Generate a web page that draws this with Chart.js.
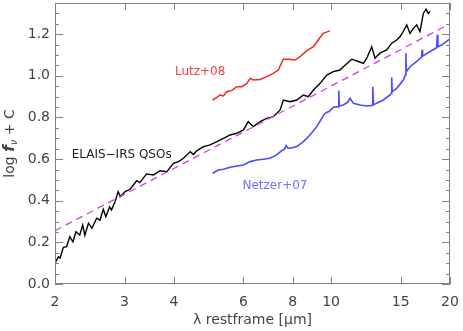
<!DOCTYPE html>
<html>
<head>
<meta charset="utf-8">
<script src="https://cdn.jsdelivr.net/npm/chart.js@4"></script>
<style>
  html, body { margin: 0; padding: 0; background: #fff; }
  #wrap { width: 463px; height: 331px; }
</style>
</head>
<body>
<div id="wrap"><canvas id="sed" width="463" height="331"></canvas></div>
<script>
// tick labels
const xTicks = [2, 3, 4, 6, 8, 10, 15, 20];
const yTicks = [0.0, 0.2, 0.4, 0.6, 0.8, 1.0, 1.2];

// ELAIS-IRS QSOs composite (black)
const elaisLambda = [2.00, 2.04, 2.06, 2.10, 2.14, 2.18, 2.22, 2.26, 2.31, 2.35, 2.38, 2.43, 2.48, 2.55, 2.60, 2.65, 2.69, 2.75, 2.78, 2.84, 2.89, 2.93, 3.01, 3.10, 3.22, 3.28, 3.41, 3.55, 3.69, 3.84, 3.99, 4.11, 4.23, 4.40, 4.48, 4.57, 4.75, 4.94, 5.14, 5.34, 5.55, 5.77, 6.00, 6.17, 6.36, 6.61, 6.87, 7.14, 7.43, 7.57, 7.87, 8.19, 8.51, 8.76, 9.02, 9.38, 9.75, 10.13, 10.53, 10.74, 11.28, 11.72, 12.07, 12.31, 12.67, 12.92, 13.30, 13.83, 14.24, 14.66, 14.94, 15.23, 15.54, 15.84, 16.15, 16.47, 16.79, 17.12, 17.39, 17.62, 17.80];
const elaisFlux = [0.100, 0.131, 0.125, 0.176, 0.179, 0.227, 0.203, 0.251, 0.235, 0.283, 0.235, 0.292, 0.268, 0.316, 0.307, 0.359, 0.323, 0.371, 0.356, 0.396, 0.444, 0.420, 0.444, 0.455, 0.496, 0.487, 0.529, 0.524, 0.544, 0.540, 0.580, 0.588, 0.604, 0.636, 0.622, 0.640, 0.660, 0.668, 0.684, 0.700, 0.716, 0.724, 0.740, 0.780, 0.756, 0.780, 0.796, 0.804, 0.836, 0.884, 0.876, 0.884, 0.908, 0.900, 0.932, 0.964, 1.004, 1.020, 1.028, 1.044, 1.080, 1.069, 1.060, 1.085, 1.140, 1.085, 1.109, 1.125, 1.157, 1.172, 1.188, 1.213, 1.245, 1.204, 1.228, 1.245, 1.213, 1.300, 1.320, 1.300, 1.310];

// Lutz+08 (red)
const lutzLambda = [5.01, 5.14, 5.23, 5.34, 5.44, 5.60, 5.77, 5.94, 6.12, 6.24, 6.36, 6.61, 6.87, 7.14, 7.35, 7.57, 7.80, 8.10, 8.34, 8.68, 9.02, 9.28, 9.55, 9.93];
const lutzFlux = [0.884, 0.897, 0.908, 0.904, 0.924, 0.929, 0.948, 0.948, 0.964, 0.988, 0.980, 0.983, 0.996, 1.012, 1.028, 1.080, 1.080, 1.076, 1.092, 1.121, 1.140, 1.172, 1.204, 1.216];

// Netzer+07 (blue)
const netzerLambda = [5.01, 5.18, 5.34, 5.55, 5.77, 6.00, 6.24, 6.48, 6.73, 7.00, 7.28, 7.50, 7.62, 7.69, 7.78, 7.87, 8.19, 8.51, 8.84, 9.20, 9.47, 9.65, 9.90, 10.13, 10.43, 10.46, 10.49, 10.74, 11.00, 11.17, 11.39, 11.84, 12.31, 12.70, 12.75, 12.80, 12.92, 13.56, 14.10, 14.20, 14.24, 14.28, 14.66, 15.23, 15.43, 15.47, 15.51, 15.84, 16.47, 16.95, 17.00, 17.05, 17.80, 18.50, 18.57, 18.64, 19.05, 19.80, 20.00];
const netzerFlux = [0.532, 0.548, 0.551, 0.561, 0.567, 0.572, 0.588, 0.596, 0.599, 0.604, 0.620, 0.641, 0.648, 0.665, 0.652, 0.652, 0.660, 0.684, 0.716, 0.756, 0.796, 0.820, 0.830, 0.849, 0.852, 0.929, 0.855, 0.860, 0.872, 0.892, 0.868, 0.860, 0.855, 0.858, 0.948, 0.862, 0.865, 0.884, 0.908, 0.915, 0.992, 0.925, 0.940, 0.980, 1.005, 1.109, 1.020, 1.044, 1.069, 1.090, 1.125, 1.095, 1.117, 1.135, 1.197, 1.140, 1.148, 1.172, 1.178];

// power-law reference (magenta dashed)
const fitLambda = [2, 20];
const fitFlux = [0.256, 1.250];

// text annotations (data coordinates)
const labelText = ['Lutz+08', 'ELAIS\u2212IRS QSOs', 'Netzer+07'];
const labelLambda = [4.66, 2.95, 7.21];
const labelFlux = [1.019, 0.620, 0.471];
const labelColor = ['#ff3b3b', '#222222', '#6e6eff'];

const FONT = "'DejaVu Sans', sans-serif";
const AXIS_GRAY = '#808080';
const TEXT_GRAY = '#444444';

const toPoints = (xs, ys) => xs.map((x, i) => ({ x: x, y: ys[i] }));

const noPadding = scale => {
    scale.paddingLeft = 0;
    scale.paddingRight = 0;
    scale.paddingTop = 0;
    scale.paddingBottom = 0;
};

// frame, inward ticks, annotations and axis titles
const decorations = {
    id: 'decorations',
    afterDraw(chart) {
        const ctx = chart.ctx;
        const area = chart.chartArea;
        const xs = chart.scales.x;
        const ys = chart.scales.y;
        ctx.save();

        ctx.strokeStyle = AXIS_GRAY;
        ctx.lineWidth = 1;
        ctx.strokeRect(area.left + 0.5, area.top + 0.5, area.right - area.left - 1, area.bottom - area.top - 1);

        ctx.beginPath();
        xTicks.forEach(v => {
            const px = Math.round(xs.getPixelForValue(v)) + 0.5;
            ctx.moveTo(px, area.bottom);
            ctx.lineTo(px, area.bottom - 7);
            ctx.moveTo(px, area.top);
            ctx.lineTo(px, area.top + 7);
        });
        for (let k = 0; k * 0.05 <= ys.max + 1e-9; k++) {
            const py = Math.round(ys.getPixelForValue(k * 0.05)) + 0.5;
            const len = (k % 4 === 0) ? 8 : 4;
            ctx.moveTo(area.left, py);
            ctx.lineTo(area.left + len, py);
            ctx.moveTo(area.right, py);
            ctx.lineTo(area.right - len, py);
        }
        ctx.stroke();

        // annotations
        ctx.font = '12px ' + FONT;
        ctx.textAlign = 'center';
        ctx.textBaseline = 'middle';
        labelText.forEach((t, i) => {
            ctx.fillStyle = labelColor[i];
            ctx.fillText(t, xs.getPixelForValue(labelLambda[i]), ys.getPixelForValue(labelFlux[i]));
        });

        // x title
        ctx.fillStyle = TEXT_GRAY;
        ctx.font = '14px ' + FONT;
        ctx.fillText('\u03bb restframe [\u03bcm]', (area.left + area.right) / 2, 320);

        // y title: log f_nu + C
        ctx.translate(10, (area.top + area.bottom) / 2);
        ctx.rotate(-Math.PI / 2);
        const parts = [
            { t: 'log ', f: '14px ' + FONT, dy: 0 },
            { t: 'f', f: 'italic bold 15px ' + FONT, dy: 0 },
            { t: '\u03bd', f: 'italic 10px ' + FONT, dy: 4 },
            { t: ' + C', f: '14px ' + FONT, dy: 0 }
        ];
        let total = 0;
        parts.forEach(p => { ctx.font = p.f; total += ctx.measureText(p.t).width; });
        let cx = -total / 2;
        ctx.textAlign = 'left';
        parts.forEach(p => {
            ctx.font = p.f;
            ctx.fillText(p.t, cx, p.dy);
            cx += ctx.measureText(p.t).width;
        });
        ctx.restore();
    }
};

const ctx = document.getElementById('sed').getContext('2d');
new Chart(ctx, {
    type: 'line',
    data: {
        datasets: [
            {
                label: 'fit',
                data: toPoints(fitLambda, fitFlux),
                borderColor: '#d23fe0',
                borderWidth: 1.3,
                borderDash: [7, 5],
                pointRadius: 0,
                tension: 0
            },
            {
                label: 'Netzer+07',
                data: toPoints(netzerLambda, netzerFlux),
                borderColor: '#4a4aff',
                borderWidth: 1.6,
                pointRadius: 0,
                tension: 0
            },
            {
                label: 'Lutz+08',
                data: toPoints(lutzLambda, lutzFlux),
                borderColor: '#ff2020',
                borderWidth: 1.5,
                pointRadius: 0,
                tension: 0
            },
            {
                label: 'ELAIS-IRS QSOs',
                data: toPoints(elaisLambda, elaisFlux),
                borderColor: '#000000',
                borderWidth: 1.4,
                pointRadius: 0,
                tension: 0
            }
        ]
    },
    options: {
        responsive: false,
        animation: false,
        devicePixelRatio: 1,
        layout: { padding: { left: 0, right: 13, top: 3, bottom: 0 } },
        plugins: {
            legend: { display: false },
            tooltip: { enabled: false }
        },
        scales: {
            x: {
                type: 'logarithmic',
                min: 2,
                max: 20,
                afterBuildTicks: scale => { scale.ticks = xTicks.map(v => ({ value: v })); },
                afterFit: scale => { scale.height = 47; noPadding(scale); },
                grid: { display: false, drawTicks: false },
                border: { display: false },
                ticks: {
                    autoSkip: false,
                    maxRotation: 0,
                    padding: 10,
                    color: TEXT_GRAY,
                    font: { family: FONT, size: 14 },
                    callback: v => String(v)
                }
            },
            y: {
                min: 0,
                max: 1.35,
                afterBuildTicks: scale => { scale.ticks = yTicks.map(v => ({ value: v })); },
                afterFit: scale => { scale.width = 55; noPadding(scale); },
                grid: { display: false, drawTicks: false },
                border: { display: false },
                ticks: {
                    padding: 5,
                    color: TEXT_GRAY,
                    font: { family: FONT, size: 14 },
                    callback: v => v.toFixed(1)
                }
            }
        }
    },
    plugins: [decorations]
});
</script>
</body>
</html>
